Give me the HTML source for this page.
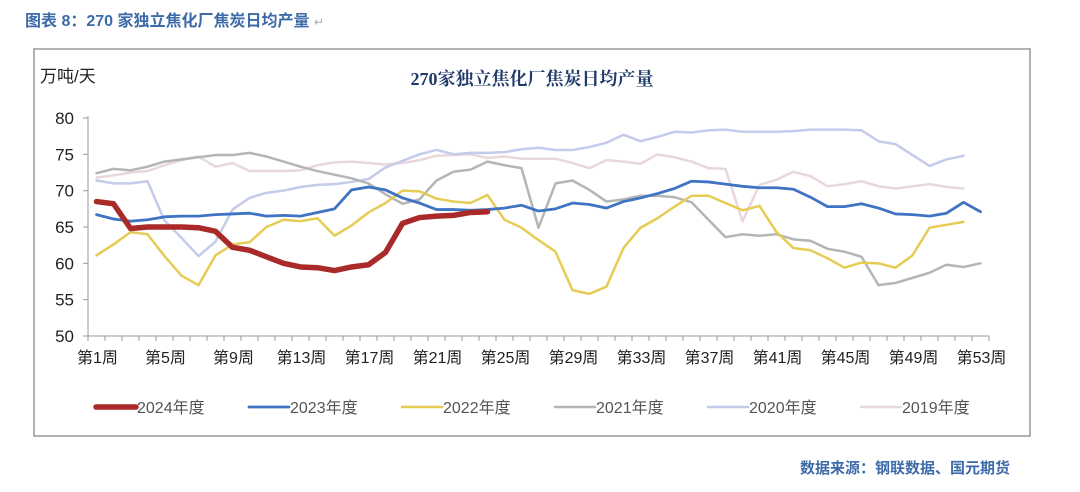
<!DOCTYPE html>
<html><head><meta charset="utf-8"><style>
body{margin:0;background:#fff;width:1080px;height:487px;overflow:hidden;font-family:"Liberation Sans","Noto Sans CJK SC",sans-serif}
</style></head><body>
<svg id="c" width="1080" height="487" viewBox="0 0 1080 487" xmlns="http://www.w3.org/2000/svg">
<text x="25" y="26" font-size="16" font-weight="bold" fill="#3d6aa8" font-family="Liberation Sans, Noto Sans CJK SC, sans-serif">图表 8：270 家独立焦化厂焦炭日均产量 <tspan fill="#aaa" font-weight="normal" font-size="12">↵</tspan></text>
<rect x="34" y="49" width="996" height="387" fill="#fff" stroke="#999" stroke-width="1.5"/>
<text x="40" y="82" font-size="17" fill="#222">万吨/天</text>
<text x="532" y="85" font-size="18" font-weight="bold" fill="#1f3a6b" text-anchor="middle" font-family="Liberation Serif, Noto Serif CJK SC, serif">270家独立焦化厂焦炭日均产量</text>
<g id="axes"></g><g id="lines"></g><g id="legend"></g>
<text x="1010" y="473" font-size="15" font-weight="bold" fill="#3d6aa8" text-anchor="end">数据来源：钢联数据、国元期货</text>
</svg>
<script>
const yTicks=[50,55,60,65,70,75,80];
const seriesNames=["2024年度","2023年度","2022年度","2021年度","2020年度","2019年度"];
const s2024=[68.5,68.2,64.8,65,65,65,64.9,64.4,62.2,61.8,60.9,60,59.5,59.4,59,59.5,59.8,61.5,65.5,66.3,66.5,66.6,67,67.1];
const s2023=[66.7,66.1,65.8,66.0,66.4,66.5,66.5,66.7,66.8,66.9,66.5,66.6,66.5,67.0,67.5,70.1,70.5,70.1,69.0,68.3,67.4,67.4,67.3,67.4,67.6,68.0,67.2,67.5,68.3,68.1,67.6,68.5,69.0,69.6,70.3,71.3,71.2,70.9,70.6,70.4,70.4,70.2,69.1,67.8,67.8,68.2,67.6,66.8,66.7,66.5,66.9,68.4,67.1];
const s2022=[61.1,62.6,64.3,64.0,61.0,58.3,57.0,61.1,62.6,62.9,65.0,66.0,65.8,66.2,63.8,65.2,67.0,68.3,70.0,69.9,68.9,68.5,68.3,69.4,66.0,64.9,63.2,61.6,56.3,55.8,56.8,62.1,64.9,66.2,67.8,69.3,69.3,68.3,67.3,67.9,64.3,62.1,61.8,60.7,59.4,60.1,60.0,59.4,61.1,64.9,65.3,65.7];
const s2021=[72.4,73.0,72.8,73.3,74.0,74.3,74.6,74.9,74.9,75.2,74.7,74.0,73.3,72.7,72.2,71.7,71.0,69.5,68.2,68.8,71.4,72.6,72.9,74.0,73.5,73.1,64.9,71.0,71.4,70.1,68.5,68.8,69.3,69.3,69.1,68.4,66.0,63.6,64.0,63.8,64.0,63.3,63.1,62.0,61.6,60.9,57.0,57.3,58.0,58.7,59.8,59.5,60.0];
const s2020=[71.4,71.0,71.0,71.3,65.9,63.5,61.0,63.0,67.4,69.0,69.7,70.0,70.5,70.8,70.9,71.2,71.6,73.2,74.1,75.0,75.6,75.0,75.2,75.2,75.3,75.7,75.9,75.6,75.6,76.0,76.6,77.7,76.8,77.4,78.1,78.0,78.3,78.4,78.1,78.1,78.1,78.2,78.4,78.4,78.4,78.3,76.8,76.4,74.9,73.4,74.3,74.8];
const s2019=[71.8,72.1,72.5,72.7,73.5,74.2,74.7,73.3,73.8,72.7,72.7,72.7,72.8,73.5,73.9,74.0,73.8,73.6,73.8,74.2,74.8,74.9,75.0,74.5,74.7,74.4,74.4,74.4,73.8,73.1,74.2,74.0,73.7,75.0,74.6,74.0,73.1,73.0,65.8,70.8,71.5,72.6,72.0,70.6,70.9,71.3,70.6,70.3,70.6,70.9,70.5,70.3];
const nWeeks=53;
const X0=88,X1=989,Y0=336,Y1=118,YMIN=50,YMAX=80;
const bw=(X1-X0)/nWeeks;
const xs=i=>X0+bw*(i+0.5);
const ys=v=>Y0-(v-YMIN)/(YMAX-YMIN)*(Y0-Y1);
const NS="http://www.w3.org/2000/svg";
function mk(tag,at,parent){const e=document.createElementNS(NS,tag);for(const k in at)e.setAttribute(k,at[k]);parent.appendChild(e);return e;}
const ax=document.getElementById('axes');
let e=mk('line',{x1:X0,y1:Y1-2,x2:X0,y2:Y0,stroke:'#999','stroke-width':1},ax);


e=mk('line',{x1:X0,y1:Y0,x2:X1,y2:Y0,stroke:'#999','stroke-width':1},ax);


yTicks.forEach(v=>{
 mk('line',{x1:X0-5,y1:ys(v),x2:X0,y2:ys(v),stroke:'#999'},ax);
 const t=mk('text',{x:74,y:ys(v)+6,'font-size':17,fill:'#222','text-anchor':'end'},ax);t.textContent=v;
 
 
});
for(let i=0;i<=nWeeks;i++){mk('line',{x1:X0+bw*i,y1:Y0,x2:X0+bw*i,y2:Y0+5,stroke:'#999'},ax);}
for(let i=0;i<nWeeks;i+=4){
 const t=mk('text',{x:xs(i)+1,y:Y0+27,'font-size':16,fill:'#222','text-anchor':'middle'},ax);t.textContent='第'+(i+1)+'周';
 
 
}
const allSeries=[s2019,s2020,s2021,s2022,s2023,s2024];
const names=["2019年度","2020年度","2021年度","2022年度","2023年度","2024年度"];
const colors=["#e8d8dc","#c4cbeb","#b5b5b5","#e6cc55","#3f73c4","#a92a28"];
const widths=[2.5,2.5,2.5,2.5,2.8,5.5];
const lg=document.getElementById('lines');
allSeries.forEach((s,k)=>{
 const p=mk('polyline',{points:s.map((v,i)=>xs(i)+','+ys(v)).join(' '),fill:'none',stroke:colors[k],'stroke-width':widths[k],'stroke-linejoin':'round','stroke-linecap':'round'},lg);
 
 
});
const leg=document.getElementById('legend');
seriesNames.forEach((n,j)=>{
 const k=names.indexOf(n);
 const x=96+j*153;
 const g=mk('g',{},leg);
 
 
 mk('line',{x1:x,y1:407,x2:x+40,y2:407,stroke:colors[k],'stroke-width':widths[k],'stroke-linecap':'round'},g);
 const t=mk('text',{x:x+41,y:413,'font-size':16,fill:'#555'},g);t.textContent=n;
});
</script>
</body></html>
